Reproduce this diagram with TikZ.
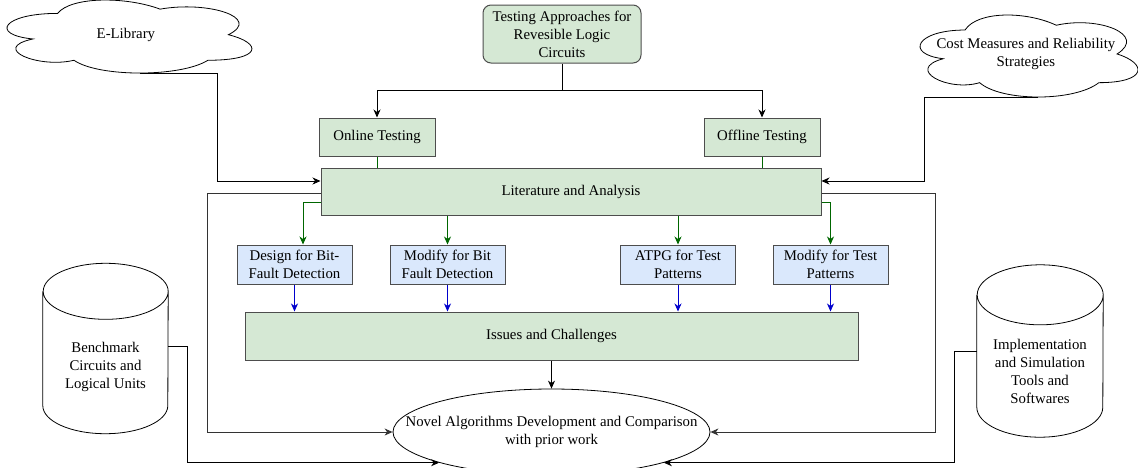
\documentclass[tikz,border=0pt]{standalone}
\usepackage{fontspec}
\setmainfont{Liberation Serif}
\usetikzlibrary{shapes.geometric, arrows.meta}
\definecolor{boxgreen}{HTML}{D5E8D4}
\definecolor{boxblue}{HTML}{DAE8FC}
\definecolor{edgegray}{HTML}{4D4D4D}
\definecolor{arrgreen}{HTML}{006600}
\definecolor{arrblue}{HTML}{0000CC}
% cloud outline in a box: x0, y0, width, height
\newcommand{\drawcloud}[4]{%
  \draw[line width=0.8pt, shift={(#1,#2)}, x=#3pt, y=-#4pt]
    (0.25,0.25) .. controls (0.05,0.25) and (0,0.5) .. (0.16,0.55)
    .. controls (0,0.66) and (0.18,0.9) .. (0.31,0.8)
    .. controls (0.4,1) and (0.7,1) .. (0.8,0.8)
    .. controls (1,0.8) and (1,0.6) .. (0.875,0.5)
    .. controls (1,0.3) and (0.8,0.1) .. (0.625,0.2)
    .. controls (0.5,0.05) and (0.3,0.05) .. (0.25,0.25) -- cycle;}
% cylinder outline round a node: node, half width, cap radius
\newcommand{\drawdrum}[3]{%
  \draw[line width=0.8pt] ([yshift=-#3pt]#1.north west) -- ([yshift=#3pt]#1.south west)
    arc[start angle=180, end angle=360, x radius=#2pt, y radius=#3pt]
    -- ([yshift=-#3pt]#1.north east)
    arc[start angle=0, end angle=180, x radius=#2pt, y radius=#3pt]
    arc[start angle=180, end angle=360, x radius=#2pt, y radius=#3pt];}

\begin{document}
\begin{tikzpicture}[x=1pt, y=-1pt,
  font=\fontsize{14.8}{18}\selectfont,
  greenbox/.style={draw=edgegray, fill=boxgreen, line width=1pt, inner sep=0pt, align=center},
  bluebox/.style={draw=edgegray, fill=boxblue, line width=1pt, inner sep=0pt, align=center,
    minimum width=115pt, minimum height=39pt},
  plain/.style={inner sep=0pt, align=center},
  arr/.style={-{Stealth[length=8pt, width=7pt, inset=2.5pt]}, line width=0.9pt},
]
\useasboundingbox (0,0) rectangle (1138,467);

% Sources
\drawcloud{-10.8}{-7.9}{273.4}{85.2}
\node[plain, minimum width=273.4pt, minimum height=85.2pt] (elib) at (125.9,34.7) {E-Library};
\coordinate (elibfoot) at (139.8,73);
\drawcloud{904.2}{6.1}{243.3}{95.7}
\node[plain, minimum width=243.3pt, minimum height=95.7pt] (cost) at (1025.9,54) {Cost Measures and Reliability\\Strategies};
\coordinate (costfoot) at (1038.3,97);

\node[plain, minimum width=125pt, minimum height=170pt] (bench) at (105.5,348.5) {};
\drawdrum{bench}{62.5}{28}
\node[plain] (benchtext) at (105.5,367) {Benchmark\\Circuits and\\Logical Units};
\node[plain, minimum width=126pt, minimum height=172pt] (impl) at (1040,351) {};
\drawdrum{impl}{63}{30}
\node[plain] (impltext) at (1040,371) {Implementation\\and Simulation\\Tools and\\Softwares};

% Main flow
\node[greenbox, rounded corners=8pt, minimum width=158pt, minimum height=58pt] (approach) at (562,34) {Testing Approaches for\\Revesible Logic\\Circuits};
\node[greenbox, minimum width=116pt, minimum height=38pt] (online) at (377,137) {Online Testing};
\node[greenbox, minimum width=116pt, minimum height=38pt] (offline) at (762,137) {Offline Testing};
\node[greenbox, minimum width=500pt, minimum height=47pt] (lit) at (571,191.5) {Literature and Analysis};

\node[bluebox] (design) at (294.5,264.5) {Design for Bit-\\Fault Detection};
\node[bluebox] (modbit) at (447.5,264.5) {Modify for Bit\\Fault Detection};
\node[bluebox] (atpg) at (678,264.5) {ATPG for Test\\Patterns};
\node[bluebox] (modtest) at (830.5,264.5) {Modify for Test\\Patterns};

\node[greenbox, minimum width=613pt, minimum height=48pt] (issues) at (551.5,336) {Issues and Challenges};
\node[ellipse, draw, line width=0.8pt, minimum width=317pt, minimum height=86pt,
  label={[align=center]center:Novel Algorithms Development and Comparison\\with prior work}] (novel) at (551.5,432) {};

% Top split
\coordinate (split) at (562,90);
\draw[line width=0.9pt] (approach.south) -- (split);
\draw[arr] (split) -| (online.north);
\draw[arr] (split) -| (offline.north);
\draw[arrgreen, line width=0.9pt] (online.south) -- (online.south |- lit.north);
\draw[arrgreen, line width=0.9pt] (offline.south) -- (offline.south |- lit.north);

% Clouds into literature
\coordinate (elibbend) at (217,181);
\coordinate (costbend) at (924,181);
\draw[arr] (elibfoot) -| (elibbend) -- (elibbend -| lit.west);
\draw[arr] (costfoot) -| (costbend) -- (costbend -| lit.east);

% Literature to methods
\draw[arr, arrgreen] (lit.west |- 0,202) -| ([xshift=8.5pt]design.north);
\draw[arr, arrgreen] (modbit.north |- lit.south) -- (modbit.north);
\draw[arr, arrgreen] (atpg.north |- lit.south) -- (atpg.north);
\draw[arr, arrgreen] (lit.east |- 0,202) -| (modtest.north);
\foreach \m in {design, modbit, atpg, modtest}
  \draw[arr, arrblue] (\m.south) -- (\m.south |- issues.north);

% Into the novel work
\draw[arr] (issues.south) -- (novel.north);
\coordinate (loopL) at (207,432);
\coordinate (loopR) at (935,432);
\draw[arr, black!80] (lit.west |- 0,193) -| (loopL) -- (novel.west);
\draw[arr, black!80] (lit.east |- 0,193) -| (loopR) -- (novel.east);
\coordinate (benchbend) at (187,0);
\coordinate (implbend) at (954,0);
\draw[arr] (bench.east |- 0,346) -| (benchbend |- novel.south west) -- (novel.south west);
\draw[arr] (impl.west |- 0,351) -| (implbend |- novel.south east) -- (novel.south east);
\end{tikzpicture}
\end{document}
